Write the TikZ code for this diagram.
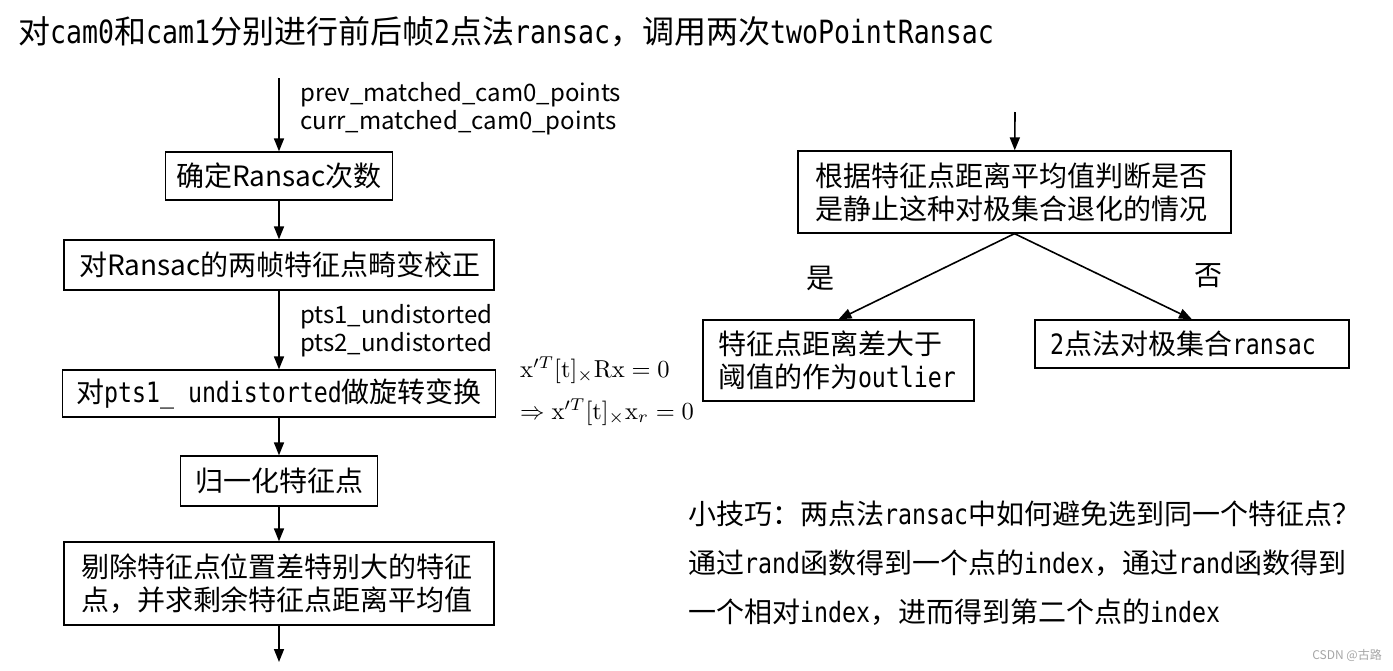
\documentclass[tikz,border=0pt]{standalone}
\usepackage{graphicx}
\usepackage[no-math]{fontspec}
\setmainfont{Noto Sans CJK SC}
\newfontfamily\monof[FakeStretch=0.83]{DejaVu Sans Mono}
\newcommand\M[1]{{\monof #1}}
\usetikzlibrary{arrows.meta}
\begin{document}
\begin{tikzpicture}[x=1pt,y=-1pt,
  box/.style={draw,line width=1.3pt,inner ysep=0pt,font=\fontsize{28}{33}\selectfont},
  arr/.style={line width=1.6pt,-{Triangle[length=13pt,width=10pt]}},
  lab/.style={anchor=west,align=left,font=\fontsize{24}{28}\selectfont,inner sep=0pt},
  plain/.style={inner sep=0pt}]
\useasboundingbox (0,0) rectangle (1393,670);
\fill[white] (0,0) rectangle (1393,670);

\node[plain,anchor=west,font=\fontsize{32}{34}\selectfont] (title) at (18,32)
  {对\M{cam0}和\M{cam1}分别进行前后帧\M{2}点法\M{ransac}，调用两次\M{twoPointRansac}};

% left column
\coordinate (s1) at (279,78);
\coordinate (e1) at (279,662);
\node[box,minimum width=227pt,minimum height=48pt] (b1) at (279,176) {确定Ransac次数};
\node[box,text width=400pt,inner xsep=15pt,align=left,minimum height=50pt] (b2) at (279,265) {对Ransac的两帧特征点畸变校正};
\node[box,minimum width=433pt,minimum height=47pt] (b3) at (279,393.5) {对\M{pts1\_ undistorted}做旋转变换};
\node[box,minimum width=197pt,minimum height=50pt] (b4) at (279,481) {归一化特征点};
\node[box,text width=396pt,inner xsep=17pt,align=left,minimum height=83pt] (b5) at (279,583.5)
  {剔除特征点位置差特别大的特征\\点，并求剩余特征点距离平均值};

\node[lab] (l1) at (300,109) {prev\_matched\_cam0\_points\\curr\_matched\_cam0\_points};
\node[lab] (l2) at (300,331) {pts1\_undistorted\\pts2\_undistorted};

\node[plain,anchor=west] (m1) at (520,370)
  {\scalebox{2.45}{$\mathrm{x}^{\prime T}[\mathrm{t}]_{\times}\mathrm{Rx}=0$}};
\node[plain,anchor=west] (m2) at (520,412)
  {\scalebox{2.45}{$\Rightarrow\mathrm{x}^{\prime T}[\mathrm{t}]_{\times}\mathrm{x}_r=0$}};

\draw[arr] (s1) -- (b1);
\draw[arr] (b1) -- (b2);
\draw[arr] (b2) -- (b3);
\draw[arr] (b3) -- (b4);
\draw[arr] (b4) -- (b5);
\draw[arr] (b5) -- (e1);

% right column
\coordinate (s2) at (1015,112);
\node[box,text width=399pt,inner xsep=17pt,align=left,minimum height=82pt] (r1) at (1014.5,192)
  {根据特征点距离平均值判断是否\\是静止这种对极集合退化的情况};
\node[box,text width=241pt,inner xsep=15pt,align=left,minimum height=81pt] (r2) at (838.5,360.5)
  {特征点距离差大于\\阈值的作为\M{outlier}};
\node[box,text width=284pt,inner xsep=15pt,align=left,minimum height=48pt] (r3) at (1192,344)
  {\M{2}点法对极集合\M{ransac}};
\node[plain,font=\fontsize{28}{33}\selectfont] (yes) at (820,278) {是};
\node[plain,font=\fontsize{28}{33}\selectfont] (no) at (1208,276) {否};

\draw[arr] (s2) -- (r1);
\draw[arr] (r1.south) -- (r2.north);
\draw[arr] (r1.south) -- (r3.north);

\node[plain,anchor=west,align=left,font=\fontsize{28}{49}\selectfont] (tip) at (688,563)
  {小技巧：两点法\M{ransac}中如何避免选到同一个特征点？\\通过\M{rand}函数得到一个点的\M{index}，通过\M{rand}函数得到\\一个相对\M{index}，进而得到第二个点的\M{index}};

\node[plain,anchor=east,text=gray!70,font=\fontsize{12}{14}\selectfont] (wm) at (1382,655) {CSDN @古路};
\end{tikzpicture}
\end{document}
